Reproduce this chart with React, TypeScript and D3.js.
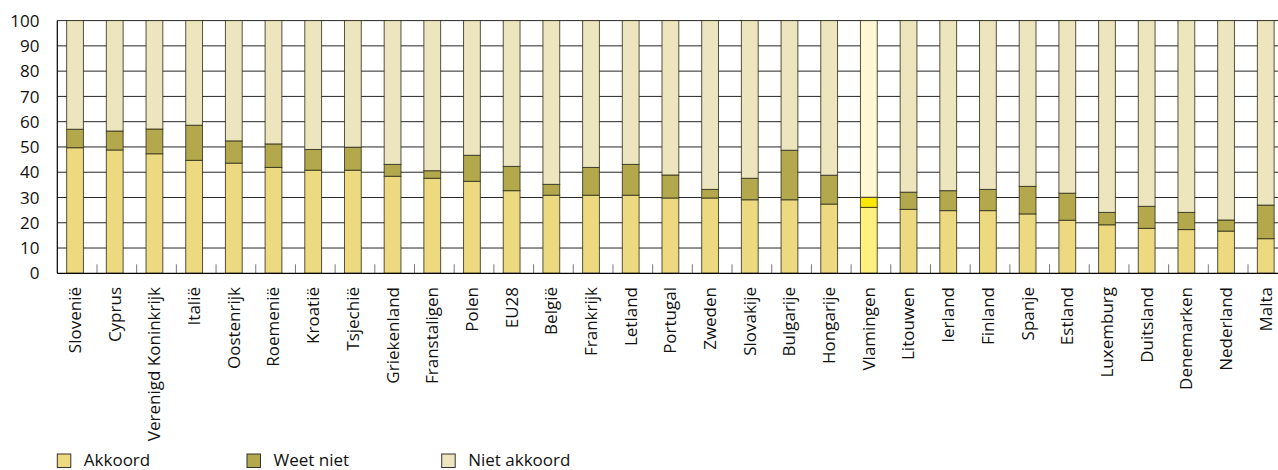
import React from "react";
import * as d3 from "d3";

const categories = ["Slovenië","Cyprus","Verenigd Koninkrijk","Italië","Oostenrijk","Roemenië","Kroatië","Tsjechië","Griekenland","Franstaligen","Polen","EU28","België","Frankrijk","Letland","Portugal","Zweden","Slovakije","Bulgarije","Hongarije","Vlamingen","Litouwen","Ierland","Finland","Spanje","Estland","Luxemburg","Duitsland","Denemarken","Nederland","Malta"];
const akkoord = [49.7,48.8,47.3,44.7,43.6,41.9,40.8,40.8,38.4,37.6,36.4,32.7,30.9,30.9,30.9,29.8,29.8,29.1,29.1,27.4,26.1,25.3,24.8,24.8,23.5,21.0,19.2,17.8,17.3,16.7,13.7];
const weetNiet = [7.3,7.5,9.8,13.9,8.8,9.3,8.2,9.1,4.7,3.0,10.3,9.6,4.3,11.0,12.2,9.1,3.4,8.5,19.6,11.4,4.0,6.8,7.9,8.4,10.9,10.7,4.9,8.7,6.8,4.4,13.3];
const nietAkkoord = [43.0,43.7,42.9,41.4,47.6,48.8,51.0,50.1,56.9,59.4,53.3,57.7,64.8,58.1,56.9,61.1,66.8,62.4,51.3,61.2,69.9,67.9,67.3,66.8,65.6,68.3,75.9,73.5,75.9,78.9,73.0];
const seriesNames = ["Akkoord","Weet niet","Niet akkoord"];
const yTicks = [0,10,20,30,40,50,60,70,80,90,100];
const highlight = "Vlamingen";

const colors = ["#EDDA80","#B3A84B","#ECE5BD"];
const highlightColors = ["#FFF080","#FFE800","#FFF8D2"];

const W = 1278, H = 470;
const FONT = "'Open Sans', 'Noto Sans', sans-serif";

export default function App() {
  const step = 39.69;
  const x = d3.scaleBand<string>()
    .domain(categories)
    .range([55.2, 55.2 + categories.length * step])
    .paddingInner(0.577)
    .paddingOuter(0.2885);
  const y = d3.scaleLinear().domain([0, 100]).range([273.3, 20.6]);
  const rows = categories.map((c, i) => ({ cat: c, a: akkoord[i], w: weetNiet[i], n: nietAkkoord[i] }));
  const stack = d3.stack<any>().keys(["a", "w", "n"]);
  const layers = stack(rows);
  const axisX = 57.3;
  const xEnd = 1287;
  const boundaries = d3.range(1, categories.length + 1).map(k => axisX + k * x.step());
  const legendX = [57.3, 247, 441.7];

  return (
    <svg width={W} height={H} style={{ position: "absolute", left: 0, top: 0, overflow: "hidden" }} fontFamily={FONT}>
      <rect width={W} height={H} fill="#fff" />
      {yTicks.map(t => (
        <g key={t}>
          {t > 0 && <line x1={axisX} x2={xEnd} y1={y(t)} y2={y(t)} stroke="#000" strokeWidth={1} strokeOpacity={0.85} />}
          <text x={39.5} y={y(t)} dy="0.36em" textAnchor="end" fontSize={17} fill="#111">{t}</text>
        </g>
      ))}
      {boundaries.map((bx, k) => (
        <line key={k} x1={bx} x2={bx} y1={y(0)} y2={y(0) - 9} stroke="#777" strokeWidth={1} />
      ))}
      {layers.map((layer, li) => (
        <g key={li}>
          {layer.map((d, i) => {
            const cat = categories[i];
            const fill = cat === highlight ? highlightColors[li] : colors[li];
            return (
              <rect key={cat} x={x(cat)} width={x.bandwidth()} y={y(d[1])} height={y(d[0]) - y(d[1])}
                fill={fill} stroke="#2a2a1a" strokeOpacity={0.8} strokeWidth={1} />
            );
          })}
        </g>
      ))}
      <line x1={axisX} x2={axisX} y1={y(100)} y2={y(0)} stroke="#000" strokeWidth={1.2} />
      <line x1={axisX} x2={xEnd} y1={y(0)} y2={y(0)} stroke="#000" strokeWidth={1.2} />
      {categories.map(c => (
        <text key={c} transform={`translate(${(x(c) as number) + x.bandwidth() / 2},287) rotate(-90)`}
          textAnchor="end" dy="0.35em" fontSize={17} fill="#111">{c}</text>
      ))}
      {seriesNames.map((s, i) => (
        <g key={s}>
          <rect x={legendX[i]} y={454} width={13.5} height={13.5} fill={colors[i]} stroke="#333" strokeWidth={1} />
          <text x={legendX[i] + 26.5} y={465.5} fontSize={17} fill="#111">{s}</text>
        </g>
      ))}
    </svg>
  );
}
